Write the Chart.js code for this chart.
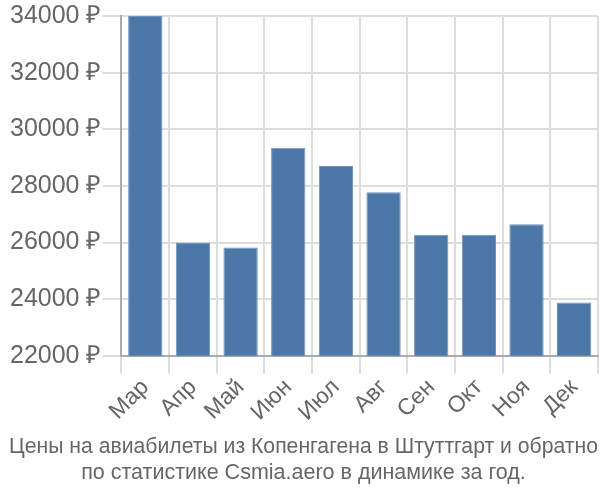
<!DOCTYPE html>
<html>
<head>
<meta charset="utf-8">
<script src="https://cdn.jsdelivr.net/npm/chart.js@4/dist/chart.umd.min.js"></script>
<style>
  html, body { margin: 0; padding: 0; background: #fff; }
  #wrap { width: 600px; height: 500px; }
</style>
</head>
<body>
<div id="wrap"><canvas id="grafik"></canvas></div>
<script>
const months = ['Мар', 'Апр', 'Май', 'Июн', 'Июл', 'Авг', 'Сен', 'Окт', 'Ноя', 'Дек'];
const prices = [34000, 26000, 25830, 29350, 28700, 27780, 26280, 26280, 26650, 23880];
const titleLines = ['Цены на авиабилеты из Копенгагена в Штуттгарт и обратно', 'по статистике Csmia.aero в динамике за год.'];

document.addEventListener('DOMContentLoaded', function() {
    const ctx = document.getElementById('grafik').getContext('2d');
    new Chart(ctx, {
        type: 'bar',
        data: {
            labels: months,
            datasets: [{
                data: prices,
                backgroundColor: '#4c78a8',
                borderColor: '#6f93bd',
                borderWidth: 1,
                barPercentage: 0.72,
                categoryPercentage: 1
            }]
        },
        options: {
            responsive: true,
            maintainAspectRatio: false,
            animation: false,
            layout: { padding: { top: 4, right: 2, left: 9, bottom: 0 } },
            plugins: {
                legend: { display: false },
                tooltip: { enabled: false },
                title: {
                    display: true,
                    position: 'bottom',
                    text: titleLines,
                    color: '#666',
                    font: { family: 'Liberation Sans', size: 21.5, weight: 'normal', lineHeight: 1.2 },
                    padding: { top: 8, bottom: 14 }
                }
            },
            scales: {
                x: {
                    grid: { color: '#dddddd', lineWidth: 2, tickLength: 18, offset: true },
                    border: { color: '#aaaaaa', width: 2 },
                    ticks: {
                        color: '#666',
                        font: { family: 'Liberation Sans', size: 23 },
                        maxRotation: 45,
                        minRotation: 45,
                        padding: 0
                    }
                },
                y: {
                    min: 22000,
                    max: 34000,
                    grid: { color: '#dddddd', lineWidth: 2, tickLength: 19 },
                    border: { color: '#aaaaaa', width: 2 },
                    ticks: {
                        stepSize: 2000,
                        color: '#666',
                        font: { family: 'Liberation Sans', size: 25 },
                        padding: 1,
                        callback: function(value) {
                            return value + ' ₽';
                        }
                    }
                }
            }
        }
    });
});
</script>
</body>
</html>
